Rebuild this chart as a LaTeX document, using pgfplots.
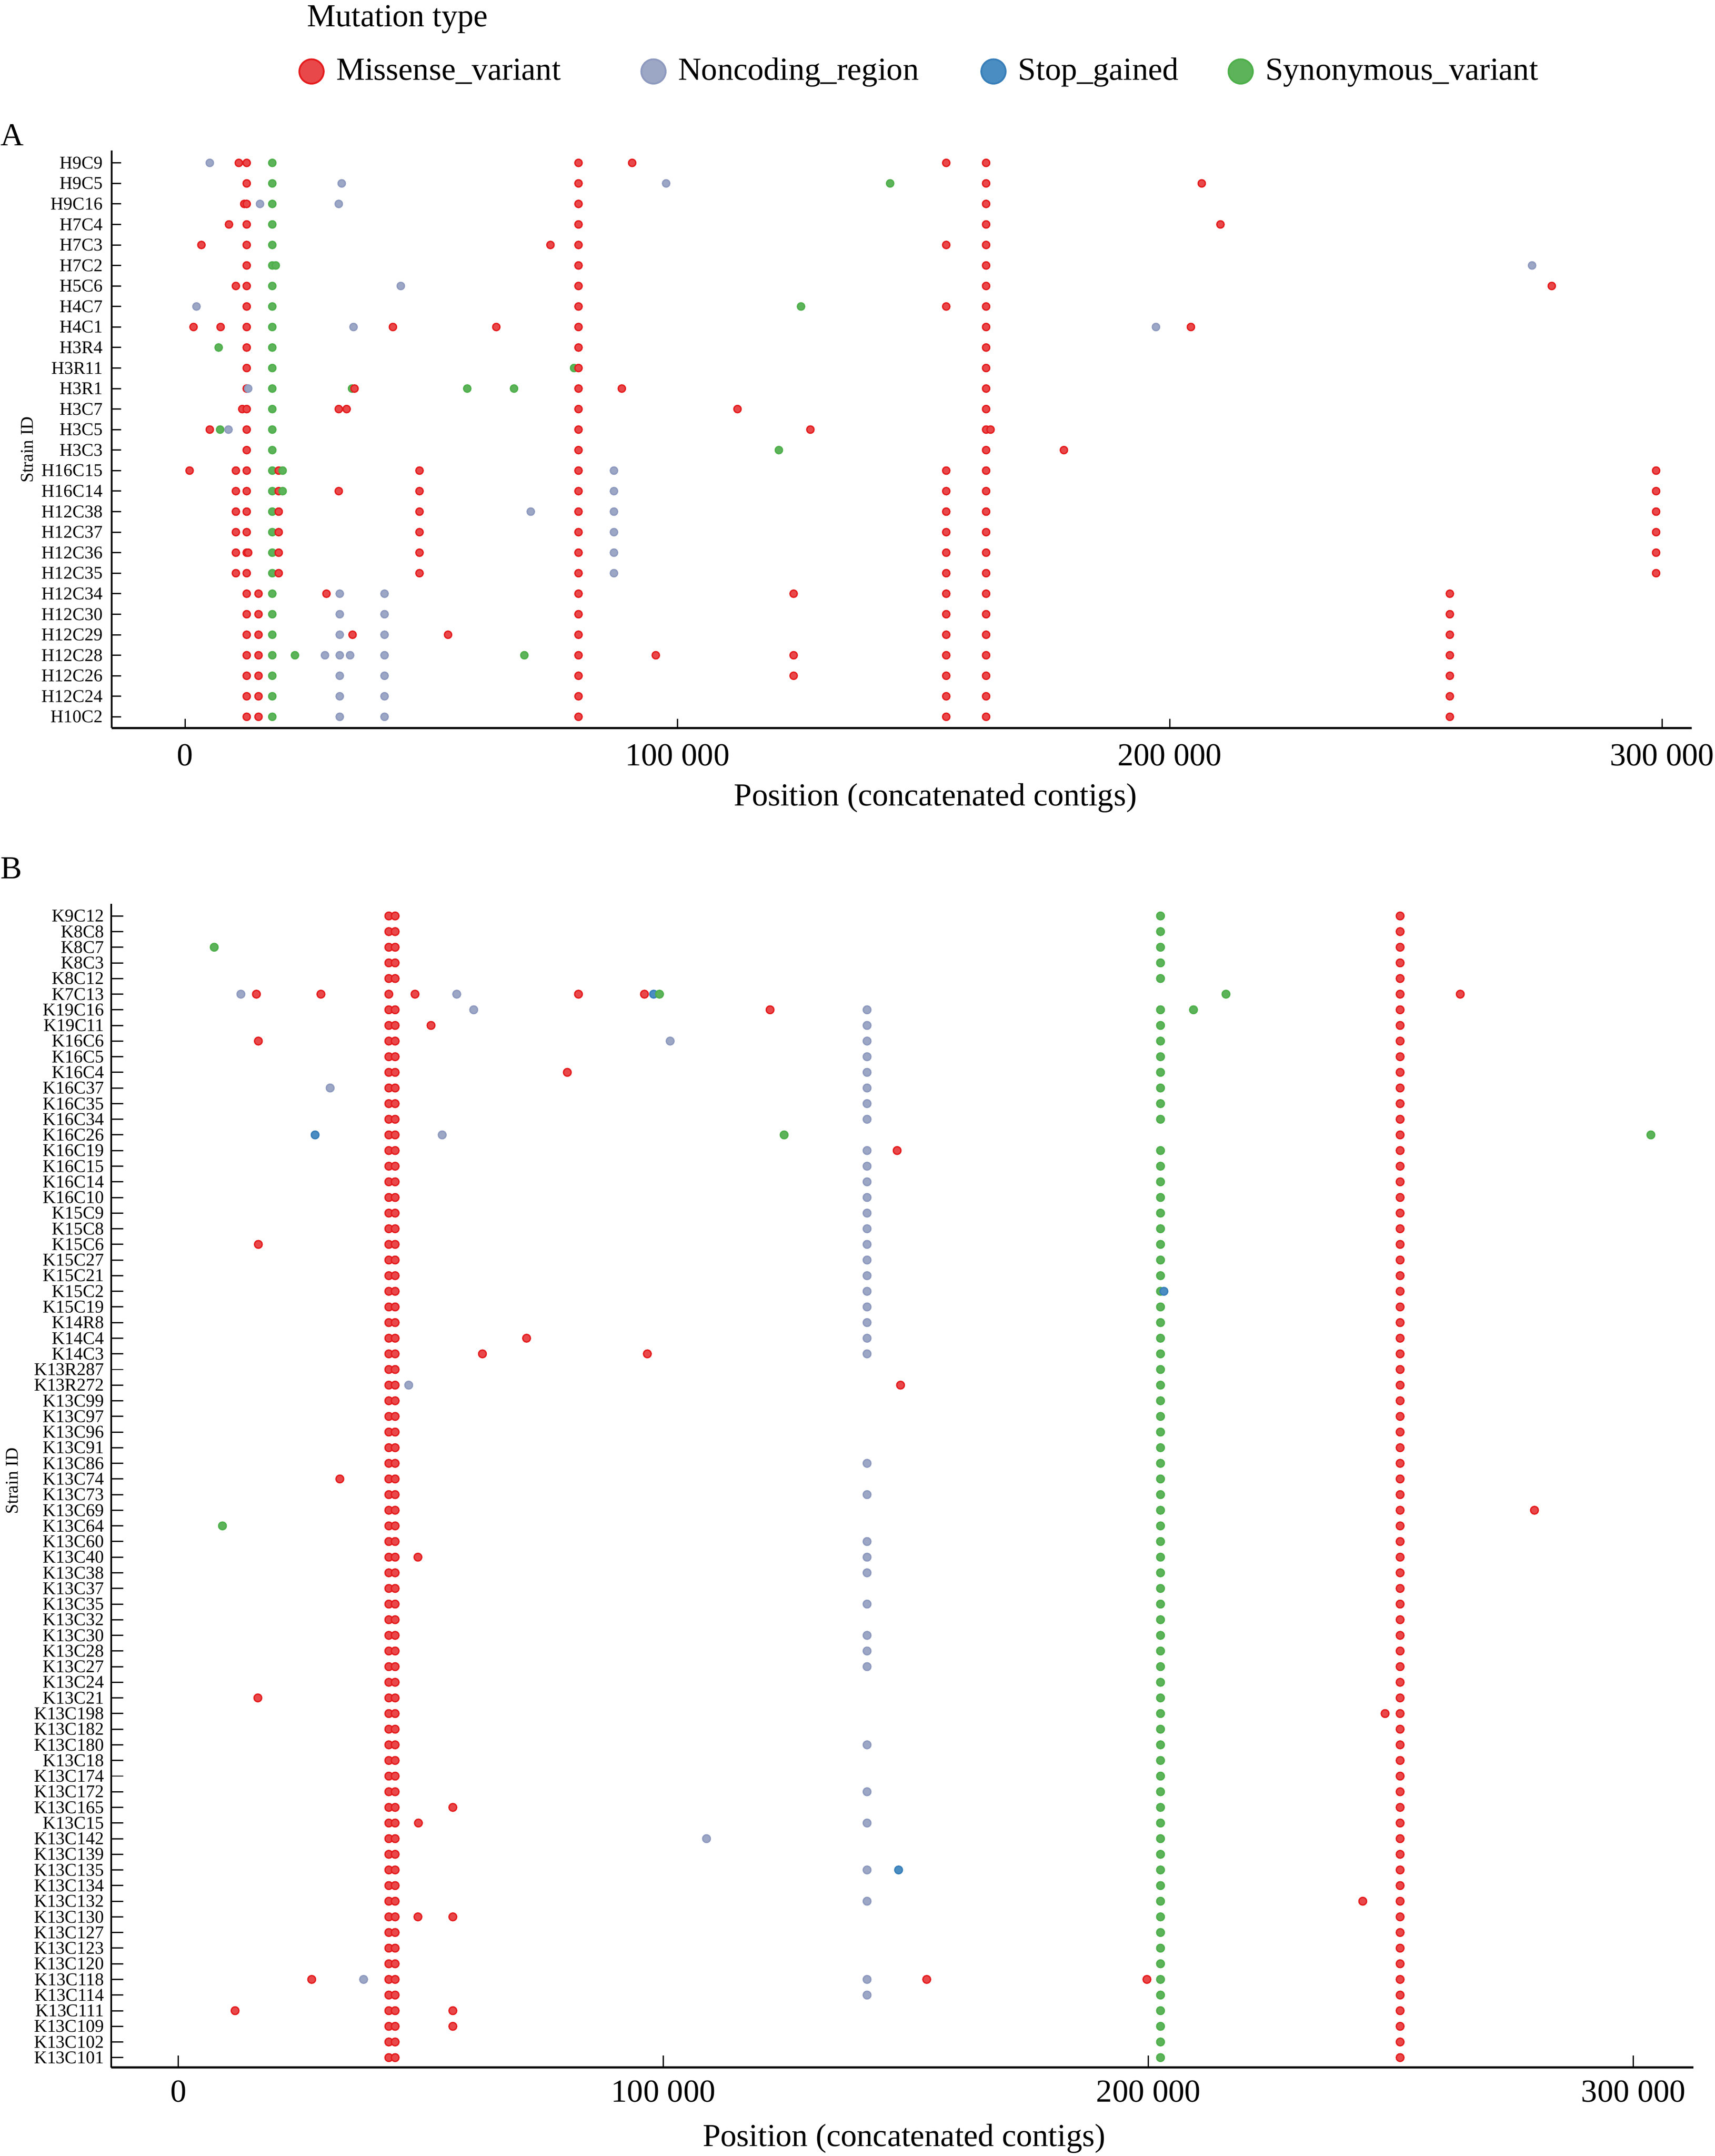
\documentclass[border=0pt]{standalone}
\usepackage{fontspec}
\setmainfont{Liberation Serif}
\usepackage{pgfplots}
\pgfplotsset{compat=1.18}
\definecolor{cMe}{HTML}{E41A1C}\definecolor{cMf}{HTML}{E9484A}
\definecolor{cNe}{HTML}{8D99BE}\definecolor{cNf}{HTML}{9CA6C5}
\definecolor{cSe}{HTML}{377EB8}\definecolor{cSf}{HTML}{4A8DC3}
\definecolor{cYe}{HTML}{4DAF4A}\definecolor{cYf}{HTML}{5CB359}
\pgfplotsset{strainax/.style={
 scale only axis, anchor=south west,
 axis x line=bottom, axis y line=left,
 axis line style={-, line width=0.45pt, black},
 tick align=inside,
 tick style={black, line width=0.3pt},
 xtick={0,100000,200000,300000},
 xticklabels={0,100\ 000,200\ 000,300\ 000},
 scaled x ticks=false,
 xticklabel style={font=\fontsize{7.5}{9}\selectfont, inner sep=0pt},
 yticklabel style={font=\fontsize{4.2}{5}\selectfont, inner sep=0pt},
 y dir=reverse,
 ylabel={Strain ID},
 ylabel style={font=\fontsize{4.2}{5}\selectfont, anchor=center, inner sep=0pt},
 xlabel={Position (concatenated contigs)},
 xlabel style={font=\fontsize{7.5}{9}\selectfont, anchor=base, inner sep=0pt},
 clip=false,
 scatter/classes={M={mark=*,draw=cMe,fill=cMf},N={mark=*,draw=cNe,fill=cNf},S={mark=*,draw=cSe,fill=cSf},Y={mark=*,draw=cYe,fill=cYf}},
}}
\begin{document}
\begin{tikzpicture}
\useasboundingbox (0,0) rectangle (400.9pt,504pt);
\node[anchor=base west, inner sep=0pt, font=\fontsize{7.5}{9}\selectfont] at (71.6pt,497.8pt) {Mutation type};
\node[anchor=base west, inner sep=0pt, font=\fontsize{7.5}{9}\selectfont] at (0pt,470pt) {A};
\node[anchor=base west, inner sep=0pt, font=\fontsize{7.5}{9}\selectfont] at (0pt,298.6pt) {B};
\begin{axis}[strainax,
 at={(26.1pt,333.8pt)}, width=369.4pt, height=135pt,
 xmin=-14940, xmax=306000, ymin=-0.6, ymax=27.55,
 major tick length=2.2pt,
 ytick={0,...,27},
 yticklabels={H9C9,H9C5,H9C16,H7C4,H7C3,H7C2,H5C6,H4C7,H4C1,H3R4,H3R11,H3R1,H3C7,H3C5,H3C3,H16C15,H16C14,H12C38,H12C37,H12C36,H12C35,H12C34,H12C30,H12C29,H12C28,H12C26,H12C24,H10C2},
 xticklabel style={yshift=-3.6pt},
 yticklabel style={xshift=-1.9pt},
 xlabel style={at={(axis description cs:0.5214,-0.1341)}},
 ylabel style={at={(axis description cs:-0.0536,0.482)}},
 legend columns=4,
 legend cell align=left,
 legend style={at={(0.1188,1.137)}, anchor=west, draw=none, fill=none, inner sep=0pt, outer sep=0pt,
   nodes={inner sep=0pt, text height=5pt, text depth=1pt, font=\fontsize{7.5}{9}\selectfont},
   /tikz/column sep=0pt},
 legend image code/.code={\draw[mark size=2.85pt, line width=0.4pt, #1] plot coordinates {(0pt,0pt)};},
]
\addlegendimage{mark=*, draw=cMe, fill=cMf}
\addlegendentry{\makebox[74.25pt][l]{\hspace{2.95pt}Missense\_variant}}
\addlegendimage{mark=*, draw=cNe, fill=cNf}
\addlegendentry{\makebox[73.8pt][l]{\hspace{2.95pt}Noncoding\_region}}
\addlegendimage{mark=*, draw=cSe, fill=cSf}
\addlegendentry{\makebox[52.1pt][l]{\hspace{2.95pt}Stop\_gained}}
\addlegendimage{mark=*, draw=cYe, fill=cYf}
\addlegendentry{\hspace{2.95pt}Synonymous\_variant}
\addplot[scatter, only marks, forget plot, scatter src=explicit symbolic, mark size=0.85pt, mark options={line width=0.3pt}]
 table[x=x, y=y, meta=t, row sep=\\] {
x y t\\
5000 0 N\\ 10900 0 M\\ 12500 0 M\\ 17700 0 Y\\ 79900 0 M\\ 90800 0 M\\ 154600 0 M\\ 162700 0 M\\
12500 1 M\\ 17700 1 Y\\ 31800 1 N\\ 79900 1 M\\ 97700 1 N\\ 143200 1 Y\\ 162700 1 M\\ 206500 1 M\\
12000 2 M\\ 12500 2 M\\ 15200 2 N\\ 17700 2 Y\\ 31200 2 N\\ 79900 2 M\\ 162700 2 M\\
8900 3 M\\ 12500 3 M\\ 17700 3 Y\\ 79900 3 M\\ 162700 3 M\\ 210300 3 M\\
3300 4 M\\ 12500 4 M\\ 17700 4 Y\\ 74200 4 M\\ 79900 4 M\\ 154600 4 M\\ 162700 4 M\\
12500 5 M\\ 17700 5 Y\\ 18400 5 Y\\ 79900 5 M\\ 162700 5 M\\ 273600 5 N\\
10300 6 M\\ 12500 6 M\\ 17700 6 Y\\ 43800 6 N\\ 79900 6 M\\ 162700 6 M\\ 277600 6 M\\
2300 7 N\\ 12500 7 M\\ 17700 7 Y\\ 79900 7 M\\ 125100 7 Y\\ 154600 7 M\\ 162700 7 M\\
1700 8 M\\ 7200 8 M\\ 12500 8 M\\ 17700 8 Y\\ 34200 8 N\\ 42200 8 M\\ 63200 8 M\\ 79900 8 M\\ 162700 8 M\\ 197200 8 N\\ 204300 8 M\\
6800 9 Y\\ 12500 9 M\\ 17700 9 Y\\ 79900 9 M\\ 162700 9 M\\
12500 10 M\\ 17700 10 Y\\ 79000 10 Y\\ 79900 10 M\\ 162700 10 M\\
12500 11 M\\ 12800 11 N\\ 17700 11 Y\\ 33900 11 Y\\ 34400 11 M\\ 57300 11 Y\\ 66800 11 Y\\ 79900 11 M\\ 88700 11 M\\ 162700 11 M\\
11600 12 M\\ 12500 12 M\\ 17700 12 Y\\ 31200 12 M\\ 32800 12 M\\ 79900 12 M\\ 112200 12 M\\ 162700 12 M\\
5000 13 M\\ 7100 13 Y\\ 8800 13 N\\ 12500 13 M\\ 17700 13 Y\\ 79900 13 M\\ 127000 13 M\\ 162700 13 M\\ 163600 13 M\\
12500 14 M\\ 17700 14 Y\\ 79900 14 M\\ 120600 14 Y\\ 162700 14 M\\ 178500 14 M\\
900 15 M\\ 10300 15 M\\ 12500 15 M\\ 17700 15 Y\\ 19000 15 M\\ 19800 15 Y\\ 47600 15 M\\ 79900 15 M\\ 87100 15 N\\ 154600 15 M\\ 162700 15 M\\ 298800 15 M\\
10300 16 M\\ 12500 16 M\\ 17700 16 Y\\ 19000 16 M\\ 19800 16 Y\\ 31200 16 M\\ 47600 16 M\\ 79900 16 M\\ 87100 16 N\\ 154600 16 M\\ 162700 16 M\\ 298800 16 M\\
10300 17 M\\ 12500 17 M\\ 17700 17 Y\\ 19000 17 M\\ 47600 17 M\\ 70200 17 N\\ 79900 17 M\\ 87100 17 N\\ 154600 17 M\\ 162700 17 M\\ 298800 17 M\\
10300 18 M\\ 12500 18 M\\ 17700 18 Y\\ 19000 18 M\\ 47600 18 M\\ 79900 18 M\\ 87100 18 N\\ 154600 18 M\\ 162700 18 M\\ 298800 18 M\\
10300 19 M\\ 12500 19 M\\ 12800 19 M\\ 17700 19 Y\\ 19000 19 M\\ 47600 19 M\\ 79900 19 M\\ 87100 19 N\\ 154600 19 M\\ 162700 19 M\\ 298800 19 M\\
10300 20 M\\ 12500 20 M\\ 17700 20 Y\\ 19000 20 M\\ 47600 20 M\\ 79900 20 M\\ 87100 20 N\\ 154600 20 M\\ 162700 20 M\\ 298800 20 M\\
12500 21 M\\ 14900 21 M\\ 17700 21 Y\\ 28700 21 M\\ 31400 21 N\\ 40500 21 N\\ 79900 21 M\\ 123600 21 M\\ 154600 21 M\\ 162700 21 M\\ 256900 21 M\\
12500 22 M\\ 14900 22 M\\ 17700 22 Y\\ 31400 22 N\\ 40500 22 N\\ 79900 22 M\\ 154600 22 M\\ 162700 22 M\\ 256900 22 M\\
12500 23 M\\ 14900 23 M\\ 17700 23 Y\\ 31400 23 N\\ 34000 23 M\\ 40500 23 N\\ 53400 23 M\\ 79900 23 M\\ 154600 23 M\\ 162700 23 M\\ 256900 23 M\\
12500 24 M\\ 14900 24 M\\ 17700 24 Y\\ 22300 24 Y\\ 28400 24 N\\ 31400 24 N\\ 33500 24 N\\ 40500 24 N\\ 68900 24 Y\\ 79900 24 M\\ 95600 24 M\\ 123600 24 M\\ 154600 24 M\\ 162700 24 M\\ 256900 24 M\\
12500 25 M\\ 14900 25 M\\ 17700 25 Y\\ 31400 25 N\\ 40500 25 N\\ 79900 25 M\\ 123600 25 M\\ 154600 25 M\\ 162700 25 M\\ 256900 25 M\\
12500 26 M\\ 14900 26 M\\ 17700 26 Y\\ 31400 26 N\\ 40500 26 N\\ 79900 26 M\\ 154600 26 M\\ 162700 26 M\\ 256900 26 M\\
12500 27 M\\ 14900 27 M\\ 17700 27 Y\\ 31400 27 N\\ 40500 27 N\\ 79900 27 M\\ 154600 27 M\\ 162700 27 M\\ 256900 27 M\\
};
\end{axis}
\begin{axis}[strainax,
 at={(26.0pt,20.7pt)}, width=369.9pt, height=272pt,
 xmin=-13840, xmax=312340, ymin=-0.77, ymax=73.63,
 major tick length=2.8pt,
 ytick={0,...,73},
 yticklabels={K9C12,K8C8,K8C7,K8C3,K8C12,K7C13,K19C16,K19C11,K16C6,K16C5,K16C4,K16C37,K16C35,K16C34,K16C26,K16C19,K16C15,K16C14,K16C10,K15C9,K15C8,K15C6,K15C27,K15C21,K15C2,K15C19,K14R8,K14C4,K14C3,K13R287,K13R272,K13C99,K13C97,K13C96,K13C91,K13C86,K13C74,K13C73,K13C69,K13C64,K13C60,K13C40,K13C38,K13C37,K13C35,K13C32,K13C30,K13C28,K13C27,K13C24,K13C21,K13C198,K13C182,K13C180,K13C18,K13C174,K13C172,K13C165,K13C15,K13C142,K13C139,K13C135,K13C134,K13C132,K13C130,K13C127,K13C123,K13C120,K13C118,K13C114,K13C111,K13C109,K13C102,K13C101},
 xticklabel style={yshift=-2.9pt},
 yticklabel style={xshift=-1.5pt},
 xlabel style={at={(axis description cs:0.5012,-0.0676)}},
 ylabel style={at={(axis description cs:-0.0627,0.504)}},
]
\addplot[scatter, only marks, forget plot, scatter src=explicit symbolic, mark size=0.9pt, mark options={line width=0.3pt}]
 table[x=x, y=y, meta=t, row sep=\\] {
x y t\\
43400 0 M\\ 44700 0 M\\ 202500 0 Y\\ 251900 0 M\\
43400 1 M\\ 44700 1 M\\ 202500 1 Y\\ 251900 1 M\\
7400 2 Y\\ 43400 2 M\\ 44700 2 M\\ 202500 2 Y\\ 251900 2 M\\
43400 3 M\\ 44700 3 M\\ 202500 3 Y\\ 251900 3 M\\
43400 4 M\\ 44700 4 M\\ 202500 4 Y\\ 251900 4 M\\
12900 5 N\\ 16100 5 M\\ 29400 5 M\\ 43400 5 M\\ 48800 5 M\\ 57400 5 N\\ 82500 5 M\\ 96100 5 M\\ 98000 5 S\\ 99200 5 Y\\ 216000 5 Y\\ 251900 5 M\\ 264300 5 M\\
43400 6 M\\ 44700 6 M\\ 60900 6 N\\ 122000 6 M\\ 142000 6 N\\ 202500 6 Y\\ 209300 6 Y\\ 251900 6 M\\
43400 7 M\\ 44700 7 M\\ 52100 7 M\\ 142000 7 N\\ 202500 7 Y\\ 251900 7 M\\
16500 8 M\\ 43400 8 M\\ 44700 8 M\\ 101400 8 N\\ 142000 8 N\\ 202500 8 Y\\ 251900 8 M\\
43400 9 M\\ 44700 9 M\\ 142000 9 N\\ 202500 9 Y\\ 251900 9 M\\
43400 10 M\\ 44700 10 M\\ 80200 10 M\\ 142000 10 N\\ 202500 10 Y\\ 251900 10 M\\
31300 11 N\\ 43400 11 M\\ 44700 11 M\\ 142000 11 N\\ 202500 11 Y\\ 251900 11 M\\
43400 12 M\\ 44700 12 M\\ 142000 12 N\\ 202500 12 Y\\ 251900 12 M\\
43400 13 M\\ 44700 13 M\\ 142000 13 N\\ 202500 13 Y\\ 251900 13 M\\
28200 14 S\\ 43400 14 M\\ 44700 14 M\\ 54400 14 N\\ 124900 14 Y\\ 251900 14 M\\ 303600 14 Y\\
43400 15 M\\ 44700 15 M\\ 142000 15 N\\ 148200 15 M\\ 202500 15 Y\\ 251900 15 M\\
43400 16 M\\ 44700 16 M\\ 142000 16 N\\ 202500 16 Y\\ 251900 16 M\\
43400 17 M\\ 44700 17 M\\ 142000 17 N\\ 202500 17 Y\\ 251900 17 M\\
43400 18 M\\ 44700 18 M\\ 142000 18 N\\ 202500 18 Y\\ 251900 18 M\\
43400 19 M\\ 44700 19 M\\ 142000 19 N\\ 202500 19 Y\\ 251900 19 M\\
43400 20 M\\ 44700 20 M\\ 142000 20 N\\ 202500 20 Y\\ 251900 20 M\\
16500 21 M\\ 43400 21 M\\ 44700 21 M\\ 142000 21 N\\ 202500 21 Y\\ 251900 21 M\\
43400 22 M\\ 44700 22 M\\ 142000 22 N\\ 202500 22 Y\\ 251900 22 M\\
43400 23 M\\ 44700 23 M\\ 142000 23 N\\ 202500 23 Y\\ 251900 23 M\\
43400 24 M\\ 44700 24 M\\ 142000 24 N\\ 202500 24 Y\\ 203200 24 S\\ 251900 24 M\\
43400 25 M\\ 44700 25 M\\ 142000 25 N\\ 202500 25 Y\\ 251900 25 M\\
43400 26 M\\ 44700 26 M\\ 142000 26 N\\ 202500 26 Y\\ 251900 26 M\\
43400 27 M\\ 44700 27 M\\ 71800 27 M\\ 142000 27 N\\ 202500 27 Y\\ 251900 27 M\\
43400 28 M\\ 44700 28 M\\ 62700 28 M\\ 96700 28 M\\ 142000 28 N\\ 202500 28 Y\\ 251900 28 M\\
43400 29 M\\ 44700 29 M\\ 202500 29 Y\\ 251900 29 M\\
43400 30 M\\ 44700 30 M\\ 47500 30 N\\ 148900 30 M\\ 202500 30 Y\\ 251900 30 M\\
43400 31 M\\ 44700 31 M\\ 202500 31 Y\\ 251900 31 M\\
43400 32 M\\ 44700 32 M\\ 202500 32 Y\\ 251900 32 M\\
43400 33 M\\ 44700 33 M\\ 202500 33 Y\\ 251900 33 M\\
43400 34 M\\ 44700 34 M\\ 202500 34 Y\\ 251900 34 M\\
43400 35 M\\ 44700 35 M\\ 142000 35 N\\ 202500 35 Y\\ 251900 35 M\\
33300 36 M\\ 43400 36 M\\ 44700 36 M\\ 202500 36 Y\\ 251900 36 M\\
43400 37 M\\ 44700 37 M\\ 142000 37 N\\ 202500 37 Y\\ 251900 37 M\\
43400 38 M\\ 44700 38 M\\ 202500 38 Y\\ 251900 38 M\\ 279600 38 M\\
9100 39 Y\\ 43400 39 M\\ 44700 39 M\\ 202500 39 Y\\ 251900 39 M\\
43400 40 M\\ 44700 40 M\\ 142000 40 N\\ 202500 40 Y\\ 251900 40 M\\
43400 41 M\\ 44700 41 M\\ 49400 41 M\\ 142000 41 N\\ 202500 41 Y\\ 251900 41 M\\
43400 42 M\\ 44700 42 M\\ 142000 42 N\\ 202500 42 Y\\ 251900 42 M\\
43400 43 M\\ 44700 43 M\\ 202500 43 Y\\ 251900 43 M\\
43400 44 M\\ 44700 44 M\\ 142000 44 N\\ 202500 44 Y\\ 251900 44 M\\
43400 45 M\\ 44700 45 M\\ 202500 45 Y\\ 251900 45 M\\
43400 46 M\\ 44700 46 M\\ 142000 46 N\\ 202500 46 Y\\ 251900 46 M\\
43400 47 M\\ 44700 47 M\\ 142000 47 N\\ 202500 47 Y\\ 251900 47 M\\
43400 48 M\\ 44700 48 M\\ 142000 48 N\\ 202500 48 Y\\ 251900 48 M\\
43400 49 M\\ 44700 49 M\\ 202500 49 Y\\ 251900 49 M\\
16400 50 M\\ 43400 50 M\\ 44700 50 M\\ 202500 50 Y\\ 251900 50 M\\
43400 51 M\\ 44700 51 M\\ 202500 51 Y\\ 248800 51 M\\ 251900 51 M\\
43400 52 M\\ 44700 52 M\\ 202500 52 Y\\ 251900 52 M\\
43400 53 M\\ 44700 53 M\\ 142000 53 N\\ 202500 53 Y\\ 251900 53 M\\
43400 54 M\\ 44700 54 M\\ 202500 54 Y\\ 251900 54 M\\
43400 55 M\\ 44700 55 M\\ 202500 55 Y\\ 251900 55 M\\
43400 56 M\\ 44700 56 M\\ 142000 56 N\\ 202500 56 Y\\ 251900 56 M\\
43400 57 M\\ 44700 57 M\\ 56600 57 M\\ 202500 57 Y\\ 251900 57 M\\
43400 58 M\\ 44700 58 M\\ 49500 58 M\\ 142000 58 N\\ 202500 58 Y\\ 251900 58 M\\
43400 59 M\\ 44700 59 M\\ 108900 59 N\\ 202500 59 Y\\ 251900 59 M\\
43400 60 M\\ 44700 60 M\\ 202500 60 Y\\ 251900 60 M\\
43400 61 M\\ 44700 61 M\\ 142000 61 N\\ 148500 61 S\\ 202500 61 Y\\ 251900 61 M\\
43400 62 M\\ 44700 62 M\\ 202500 62 Y\\ 251900 62 M\\
43400 63 M\\ 44700 63 M\\ 142000 63 N\\ 202500 63 Y\\ 244200 63 M\\ 251900 63 M\\
43400 64 M\\ 44700 64 M\\ 49400 64 M\\ 56600 64 M\\ 202500 64 Y\\ 251900 64 M\\
43400 65 M\\ 44700 65 M\\ 202500 65 Y\\ 251900 65 M\\
43400 66 M\\ 44700 66 M\\ 202500 66 Y\\ 251900 66 M\\
43400 67 M\\ 44700 67 M\\ 202500 67 Y\\ 251900 67 M\\
27500 68 M\\ 38200 68 N\\ 43400 68 M\\ 44700 68 M\\ 142000 68 N\\ 154300 68 M\\ 199700 68 M\\ 202500 68 Y\\ 251900 68 M\\
43400 69 M\\ 44700 69 M\\ 142000 69 N\\ 202500 69 Y\\ 251900 69 M\\
11700 70 M\\ 43400 70 M\\ 44700 70 M\\ 56600 70 M\\ 202500 70 Y\\ 251900 70 M\\
43400 71 M\\ 44700 71 M\\ 56600 71 M\\ 202500 71 Y\\ 251900 71 M\\
43400 72 M\\ 44700 72 M\\ 202500 72 Y\\ 251900 72 M\\
43400 73 M\\ 44700 73 M\\ 202500 73 Y\\ 251900 73 M\\
};
\end{axis}
\end{tikzpicture}
\end{document}
